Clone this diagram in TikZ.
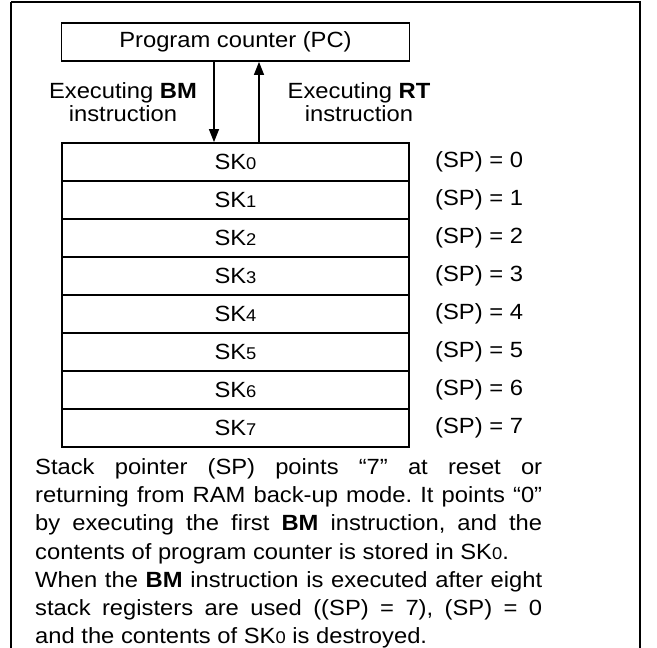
\documentclass[tikz,border=0pt]{standalone}
\usepackage{fontspec}
\setmainfont{Liberation Sans}
\newfontfamily\widefont[FakeStretch=1.08]{Liberation Sans}
\usetikzlibrary{arrows.meta}
\newcommand{\sk}[1]{SK{\fontsize{17}{17}\selectfont #1}}
\tikzset{
  frame/.style={draw, line width=2pt},
  reg/.style={draw, line width=1.8pt, minimum width=347pt, minimum height=38pt, inner sep=0pt, font=\widefont\fontsize{22}{26}\selectfont},
  splabel/.style={anchor=west, inner sep=0pt, font=\widefont\fontsize{22}{26}\selectfont},
  lbl/.style={align=center, inner sep=0pt, font=\widefont\fontsize{22}{23.3}\selectfont},
  conn/.style={line width=1.3pt, -{Triangle[length=13pt,width=10pt]}}
}
\begin{document}
\begin{tikzpicture}[x=1pt,y=-1pt]
\useasboundingbox (0,0) rectangle (657,648);
\draw[frame] (11,2) -- (640,2) -- (640,660) (11,2) -- (11,660);
\node[reg, minimum width=348pt] (pc) at (235.5,42) {Program counter (PC)};
\foreach \i in {0,...,7}{
  \node[reg] (r\i) at (235.5,{162+38*\i}) {\sk{\i}};
  \node[splabel] (s\i) at (435,{162+38*\i}) {(SP) = \i};
}
\draw[conn] (pc.south -| 214,0) -- (r0.north -| 214,0);
\draw[conn] (r0.north -| 259,0) -- (pc.south -| 259,0);
\node[lbl] (bm) at (123,102) {Executing \textbf{BM}\\instruction};
\node[lbl] (rt) at (359,102) {Executing \textbf{RT}\\instruction};
\node[anchor=north west, inner sep=0pt, text width=507pt, align=justify, font=\widefont\fontsize{22}{28.3}\selectfont] (txt) at (35,458) {%
\frenchspacing\spaceskip=0pt\xspaceskip=0pt
\makebox[507pt][s]{Stack pointer (SP) points “7” at reset or}\\
\makebox[507pt][s]{returning from RAM back-up mode. It points “0”}\\
\makebox[507pt][s]{by executing the first \textbf{BM} instruction, and the}\\
contents of program counter is stored in \sk{0}.\\
\makebox[507pt][s]{When the \textbf{BM} instruction is executed after eight}\\
\makebox[507pt][s]{stack registers are used ((SP) = 7), (SP) = 0}\\
and the contents of \sk{0} is destroyed.};
\end{tikzpicture}
\end{document}
